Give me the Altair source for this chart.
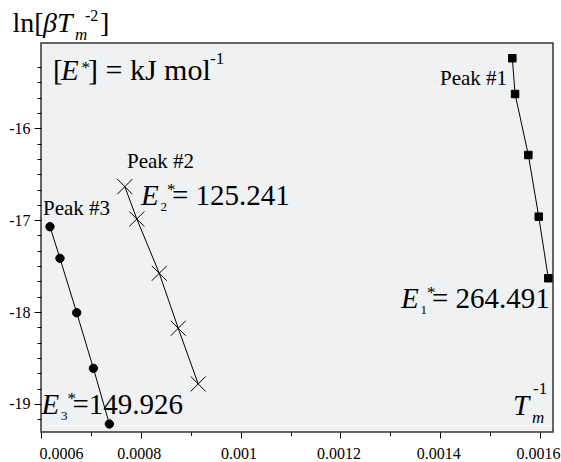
import altair as alt
import pandas as pd

SERIF = "Liberation Serif"

# Kissinger-type plot: ln(beta / Tm^2) against 1/Tm for three peaks
peak_names = ["Peak #1", "Peak #2", "Peak #3"]

peak1_inv_t = [0.0015445, 0.0015500, 0.0015766, 0.0015974, 0.0016166]
peak1_ln = [-15.238, -15.627, -16.291, -16.962, -17.632]

peak2_inv_t = [0.000768, 0.000792, 0.000837, 0.000875, 0.000915]
peak2_ln = [-16.635, -16.987, -17.578, -18.176, -18.782]

peak3_inv_t = [0.000618, 0.000638, 0.0006715, 0.000705, 0.000737]
peak3_ln = [-17.071, -17.415, -18.007, -18.612, -19.218]

activation_energy = {"Peak #1": "264.491", "Peak #2": "125.241", "Peak #3": "149.926"}

x_major = [0.0006, 0.0008, 0.001, 0.0012, 0.0014, 0.0016]
x_minor = [0.0007, 0.0009, 0.0011, 0.0013, 0.0015]
y_major = [-19, -18, -17, -16]
y_minor = [k + f / 6 for k in range(-20, -15) for f in range(1, 6)]
y_minor = [v for v in y_minor if -19.3 < v < -15.3]

X_DOMAIN = [0.0006, 0.001626]
Y_DOMAIN = [-19.305, -15.072]

rows = []
for name, xs, ys in [("Peak #1", peak1_inv_t, peak1_ln),
                     ("Peak #2", peak2_inv_t, peak2_ln),
                     ("Peak #3", peak3_inv_t, peak3_ln)]:
    for xv, yv in zip(xs, ys):
        rows.append({"peak": name, "inv_t": xv, "ln": yv})
df = pd.DataFrame(rows)

x_scale = alt.Scale(domain=X_DOMAIN, nice=False, zero=False)
y_scale = alt.Scale(domain=Y_DOMAIN, nice=False, zero=False)

base = alt.Chart(df)

# fitted lines, carrying the labelled (major) axes
lines = base.mark_line(color="black", strokeWidth=1).encode(
    x=alt.X("inv_t:Q", scale=x_scale, title=None,
            axis=alt.Axis(values=x_major, labelExpr="toString(datum.value)",
                          tickSize=6, labelPadding=7, labelOffset=-2,
                          orient="bottom")),
    y=alt.Y("ln:Q", scale=y_scale, title=None,
            axis=alt.Axis(values=y_major, labelExpr="toString(datum.value)",
                          tickSize=7, labelPadding=4, orient="left")),
    detail="peak:N",
)

CROSS = "M-1,-1L1,1M1,-1L-1,1"


def markers(name, shape, size, with_minor_axes=False):
    if with_minor_axes:
        x_axis = alt.Axis(values=x_minor, labels=False, tickSize=3.5, orient="bottom")
        y_axis = alt.Axis(values=y_minor, labels=False, tickSize=4, orient="left")
    else:
        x_axis = None
        y_axis = None
    return base.transform_filter(alt.datum.peak == name).mark_point(
        shape=shape, size=size, filled=True, fill="black",
        stroke="black", strokeWidth=1, opacity=1,
    ).encode(
        x=alt.X("inv_t:Q", scale=x_scale, title=None, axis=x_axis),
        y=alt.Y("ln:Q", scale=y_scale, title=None, axis=y_axis),
    )


squares = markers("Peak #1", "square", 56, with_minor_axes=True)
crosses = markers("Peak #2", CROSS, 225)
circles = markers("Peak #3", "circle", 70)

LEFT, TOP = 41, 43


def txt(s, x, y, size, italic=False):
    """Text run placed by its left edge and baseline, in page pixels."""
    return alt.Chart(alt.Data(values=[{}])).mark_text(
        text=s, font=SERIF, fontSize=size,
        fontStyle="italic" if italic else "normal",
        align="left", baseline="alphabetic", color="black",
    ).encode(x=alt.value(x - LEFT), y=alt.value(y - TOP))


def energy_label(idx, value, x, y):
    return [
        txt("E", x, y, 29, italic=True),
        txt(idx, x + 19.5, y + 6, 13),
        txt("*", x + 26, y - 10.5, 17),
        txt(value, x + 31, y, 29),
    ]


texts = [
    # axis titles
    txt("ln[", 12.5, 31.7, 28),
    txt("\u03b2T", 43, 31.7, 28, italic=True),
    txt("m", 75, 40, 17, italic=True),
    txt("-2", 85, 20.7, 16),
    txt("]", 100, 31.7, 28),
    txt("T", 513, 415, 29, italic=True),
    txt("m", 532, 423, 17, italic=True),
    txt("-1", 533, 394, 17),
    # units
    txt("[", 53, 79.7, 29),
    txt("E", 61, 79.7, 29, italic=True),
    txt("*", 81.5, 72.5, 17),
    txt("] = kJ mol", 88, 79.7, 30),
    txt("-1", 210, 64, 17),
    # peak names
    txt("Peak #1", 440, 85, 21),
    txt("Peak #2", 127, 168, 21),
    txt("Peak #3", 43, 215, 21),
]
texts += energy_label("1", "= " + activation_energy["Peak #1"], 401, 308)
texts += energy_label("2", "= " + activation_energy["Peak #2"], 141, 205)
texts += energy_label("3", "=" + activation_energy["Peak #3"], 41.5, 414)

chart = alt.layer(lines, squares, crosses, circles, *texts).resolve_axis(
    x="independent", y="independent"
).properties(
    width=512, height=389,
    autosize=alt.AutoSizeParams(type="none"),
    padding={"left": LEFT, "top": TOP, "right": 8, "bottom": 30},
    background="white",
).configure_view(
    stroke="#333333", strokeWidth=1.5, fill="#f0f1f3"
).configure_axis(
    grid=False, domain=False, labelFont=SERIF, labelFontSize=16,
    labelColor="black", tickColor="black", tickWidth=1,
)

chart.save("out.html", embed_options={"renderer": "svg", "actions": False})
